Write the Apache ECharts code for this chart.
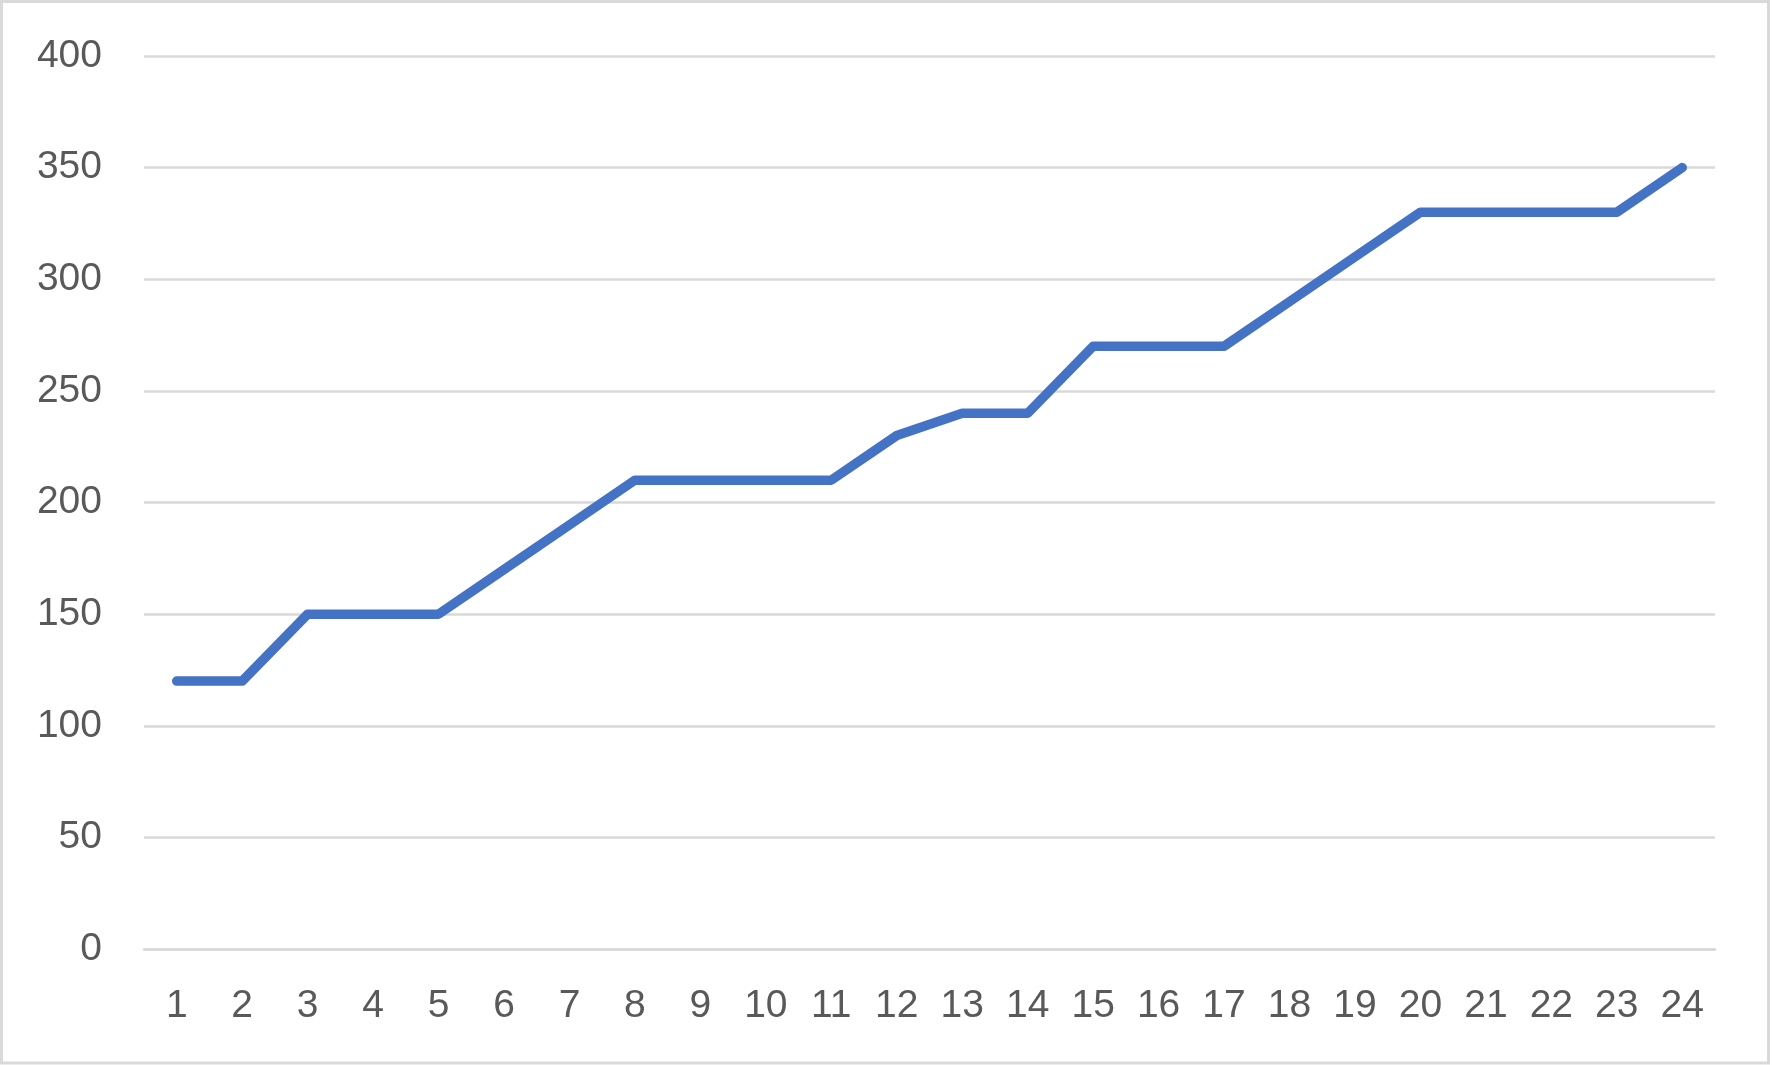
<!DOCTYPE html>
<html>
<head>
<meta charset="utf-8">
<script src="https://cdn.jsdelivr.net/npm/echarts@6/dist/echarts.min.js"></script>
<style>
html,body{margin:0;padding:0;background:#fff;}
#chart{width:1772px;height:1065px;}
</style>
</head>
<body>
<div id="chart"></div>
<script>
const categories = ['1','2','3','4','5','6','7','8','9','10','11','12','13','14','15','16','17','18','19','20','21','22','23','24'];
const values = [120,120,150,150,150,170,190,210,210,210,210,230,240,240,270,270,270,290,310,330,330,330,330,350];
const yTicks = { min: 0, max: 400, interval: 50 };

const chart = echarts.init(document.getElementById('chart'), null, { renderer: 'canvas' });
const labelFont = { color: '#595959', fontSize: 39, fontFamily: 'Liberation Sans, Arial, sans-serif' };
chart.setOption({
  backgroundColor: '#ffffff',
  animation: false,
  graphic: [{
    type: 'rect',
    shape: { x: 1.5, y: 1.5, width: 1767, height: 1061.5 },
    style: { fill: 'none', stroke: '#d9d9d9', lineWidth: 3 },
    z: 100
  }],
  grid: { left: 144, right: 57, top: 56, bottom: 116, containLabel: false },
  xAxis: {
    type: 'category',
    data: categories,
    boundaryGap: true,
    axisLine: { show: true, lineStyle: { color: '#d9d9d9', width: 2.5 } },
    axisTick: { show: false },
    axisLabel: Object.assign({ margin: 38, interval: 0 }, labelFont),
    splitLine: { show: false }
  },
  yAxis: {
    type: 'value',
    min: yTicks.min, max: yTicks.max, interval: yTicks.interval,
    axisLine: { show: false },
    axisTick: { show: false },
    axisLabel: Object.assign({ margin: 42 }, labelFont),
    splitLine: { show: true, lineStyle: { color: '#d9d9d9', width: 2.5 } }
  },
  series: [{
    type: 'line',
    data: values,
    showSymbol: false,
    symbol: 'none',
    lineStyle: { color: '#4472C4', width: 9.5, cap: 'round', join: 'round' },
    itemStyle: { color: '#4472C4' }
  }]
});
</script>
</body>
</html>
